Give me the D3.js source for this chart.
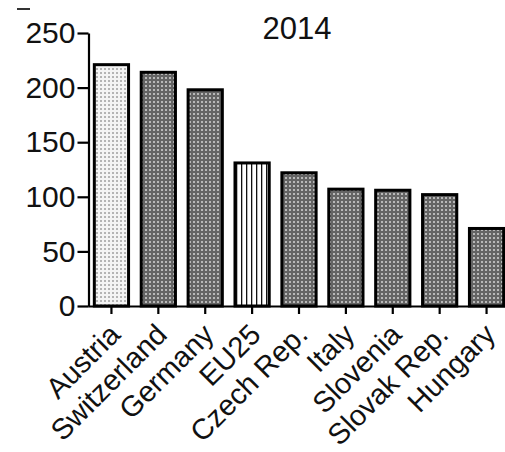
<!DOCTYPE html>
<html>
<head>
<meta charset="utf-8">
<script src="https://cdn.jsdelivr.net/npm/d3@7/dist/d3.min.js"></script>
<style>
  html, body { margin: 0; padding: 0; background: #fff; }
  svg { display: block; }
  text { font-family: "Liberation Sans", Arial, Helvetica, sans-serif; fill: #111; }
</style>
</head>
<body>
<svg id="chart" width="505" height="452"></svg>
<script>
// Index values for 2014
const title = "2014";
const countries = ["Austria", "Switzerland", "Germany", "EU25", "Czech Rep.", "Italy", "Slovenia", "Slovak Rep.", "Hungary"];
const values = [221, 214, 198, 131, 122, 107, 106, 102, 71];
const yTicks = [0, 50, 100, 150, 200, 250];

const svg = d3.select("#chart");
const defs = svg.append("defs");

// Light dotted fill
const pLight = defs.append("pattern").attr("id", "pat-light")
  .attr("patternUnits", "userSpaceOnUse").attr("width", 4).attr("height", 4);
pLight.append("rect").attr("width", 4).attr("height", 4).attr("fill", "#f4f4f4");
pLight.append("rect").attr("x", 0).attr("y", 0).attr("width", 2).attr("height", 2).attr("fill", "#b4b4b4");

// Dark checked fill
const pDark = defs.append("pattern").attr("id", "pat-dark")
  .attr("patternUnits", "userSpaceOnUse").attr("width", 4).attr("height", 4);
pDark.append("rect").attr("width", 4).attr("height", 4).attr("fill", "#646464");
pDark.append("rect").attr("x", 1).attr("y", 1).attr("width", 2).attr("height", 2).attr("fill", "#b8b8b8");

// Vertical stripes
const pStripe = defs.append("pattern").attr("id", "pat-stripe")
  .attr("patternUnits", "userSpaceOnUse").attr("width", 5).attr("height", 5);
pStripe.append("rect").attr("width", 5).attr("height", 5).attr("fill", "#fff");
pStripe.append("rect").attr("x", 1).attr("y", 0).attr("width", 1.3).attr("height", 5).attr("fill", "#111");

function fillFor(name) {
  if (name === "Austria") return "url(#pat-light)";
  if (name === "EU25") return "url(#pat-stripe)";
  return "url(#pat-dark)";
}

const x = d3.scaleBand()
  .domain(countries)
  .range([88, 510])
  .paddingInner(0.27)
  .paddingOuter(0.135);

const y = d3.scaleLinear().domain([0, 250]).range([306, 33]);

// Bars
svg.append("g").selectAll("rect")
  .data(countries)
  .join("rect")
  .attr("x", d => x(d))
  .attr("y", (d, i) => y(values[i]))
  .attr("width", x.bandwidth())
  .attr("height", (d, i) => y(0) - y(values[i]))
  .attr("fill", d => fillFor(d))
  .attr("stroke", "#000")
  .attr("stroke-width", 3);

// Y axis
const yAxis = svg.append("g")
  .attr("transform", "translate(88.5,0)")
  .call(d3.axisLeft(y).tickValues(yTicks).tickSize(11).tickPadding(2).tickSizeOuter(0));
yAxis.select(".domain").attr("stroke", "#000").attr("stroke-width", 2.2);
yAxis.selectAll(".tick line").attr("stroke", "#000").attr("stroke-width", 2.2);
yAxis.selectAll(".tick text").attr("font-size", 30).attr("fill", "#111");

// X axis
const xAxis = svg.append("g")
  .attr("transform", "translate(0,306)")
  .call(d3.axisBottom(x).tickSize(8).tickSizeOuter(0).tickFormat(""));
xAxis.select(".domain").attr("stroke", "#000").attr("stroke-width", 2.2);
xAxis.selectAll(".tick line").attr("stroke", "#000").attr("stroke-width", 2.2);

// Rotated category labels
svg.append("g").selectAll("text")
  .data(countries)
  .join("text")
  .attr("transform", d => `translate(${x(d) + x.bandwidth() / 2 - 4},${322}) rotate(-45)`)
  .attr("text-anchor", "end")
  .attr("dy", "0.7em")
  .attr("font-size", 29)
  .text(d => d);

// Title
svg.append("text")
  .attr("x", 297)
  .attr("y", 39)
  .attr("text-anchor", "middle")
  .attr("font-size", 31)
  .text(title);

// Short stroke at the top-left corner
svg.append("line")
  .attr("x1", 17).attr("x2", 30).attr("y1", 9).attr("y2", 9)
  .attr("stroke", "#333").attr("stroke-width", 2);
</script>
</body>
</html>
